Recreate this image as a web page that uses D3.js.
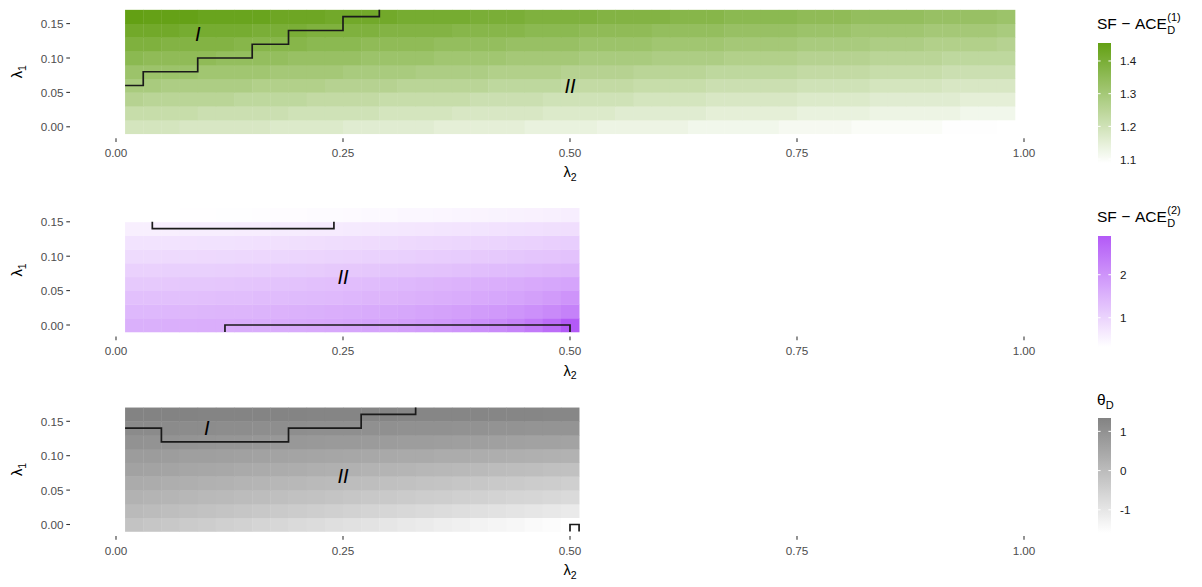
<!DOCTYPE html>
<html><head><meta charset="utf-8">
<script src="https://cdn.jsdelivr.net/npm/d3@7"></script>
<style>
body{margin:0;background:#fff}
text{font-family:"Liberation Sans",Arial,Helvetica,sans-serif}
</style>
</head><body>
<svg id="chart" width="1202" height="587"></svg>
<script>
// ---------------- data ----------------
const lambda2Wide = [0.02,0.04,0.06,0.08,0.10,0.12,0.14,0.16,0.18,0.20,0.22,0.24,0.26,0.28,0.30,0.32,0.34,0.36,0.38,0.40,0.42,0.44,0.46,0.48,0.50,0.52,0.54,0.56,0.58,0.60,0.62,0.64,0.66,0.68,0.70,0.72,0.74,0.76,0.78,0.80,0.82,0.84,0.86,0.88,0.90,0.92,0.94,0.96,0.98];
const lambda2Narrow = [0.02,0.04,0.06,0.08,0.10,0.12,0.14,0.16,0.18,0.20,0.22,0.24,0.26,0.28,0.30,0.32,0.34,0.36,0.38,0.40,0.42,0.44,0.46,0.48,0.50];
const lambda1 = [0.00,0.02,0.04,0.06,0.08,0.10,0.12,0.14,0.16];

// SF-ACE_D^(1): rows = lambda1 (0.00 .. 0.16), columns = lambda2Wide
const ace1 = [
 [1.19,1.19,1.19,1.18,1.18,1.18,1.18, 1.18,1.17,1.17,1.17,1.17,1.16,1.16, 1.16,1.16,1.16,1.15,1.15,1.15,1.15, 1.15,1.14,1.14,1.14,1.14,1.13,1.13, 1.13,1.13,1.13,1.12,1.12,1.12,1.12, 1.12,1.11,1.11,1.11,1.11,1.10,1.10, 1.10,1.10,1.10,1.09,1.09,1.09,1.088],
 [1.22,1.22,1.22,1.22,1.21,1.21,1.21, 1.21,1.21,1.20,1.20,1.20,1.20,1.20, 1.19,1.19,1.19,1.19,1.18,1.18,1.18, 1.18,1.18,1.17,1.17,1.17,1.17,1.16, 1.16,1.16,1.16,1.16,1.15,1.15,1.15, 1.15,1.15,1.14,1.14,1.14,1.14,1.13, 1.13,1.13,1.13,1.13,1.12,1.12,1.12],
 [1.26,1.25,1.25,1.25,1.25,1.25,1.24, 1.24,1.24,1.24,1.23,1.23,1.23,1.23, 1.22,1.22,1.22,1.22,1.22,1.21,1.21, 1.21,1.21,1.20,1.20,1.20,1.20,1.20, 1.19,1.19,1.19,1.19,1.18,1.18,1.18, 1.18,1.18,1.17,1.17,1.17,1.17,1.16, 1.16,1.16,1.16,1.16,1.15,1.15,1.15],
 [1.29,1.29,1.28,1.28,1.28,1.28,1.28, 1.27,1.27,1.27,1.27,1.26,1.26,1.26, 1.26,1.25,1.25,1.25,1.25,1.25,1.24, 1.24,1.24,1.24,1.23,1.23,1.23,1.23, 1.22,1.22,1.22,1.22,1.21,1.21,1.21, 1.21,1.21,1.20,1.20,1.20,1.20,1.19, 1.19,1.19,1.19,1.18,1.18,1.18,1.18],
 [1.32,1.32,1.32,1.32,1.31,1.31,1.31, 1.31,1.30,1.30,1.30,1.30,1.29,1.29, 1.29,1.29,1.28,1.28,1.28,1.28,1.27, 1.27,1.27,1.27,1.26,1.26,1.26,1.26, 1.25,1.25,1.25,1.25,1.24,1.24,1.24, 1.24,1.24,1.23,1.23,1.23,1.23,1.22, 1.22,1.22,1.22,1.21,1.21,1.21,1.21],
 [1.36,1.35,1.35,1.35,1.35,1.34,1.34, 1.34,1.34,1.33,1.33,1.33,1.33,1.32, 1.32,1.32,1.32,1.31,1.31,1.31,1.31, 1.30,1.30,1.30,1.30,1.29,1.29,1.29, 1.29,1.28,1.28,1.28,1.28,1.27,1.27, 1.27,1.27,1.26,1.26,1.26,1.26,1.25, 1.25,1.25,1.25,1.24,1.24,1.24,1.24],
 [1.39,1.39,1.38,1.38,1.38,1.38,1.37, 1.37,1.37,1.37,1.36,1.36,1.36,1.35, 1.35,1.35,1.35,1.34,1.34,1.34,1.34, 1.33,1.33,1.33,1.33,1.32,1.32,1.32, 1.32,1.31,1.31,1.31,1.31,1.30,1.30, 1.30,1.30,1.29,1.29,1.29,1.29,1.28, 1.28,1.28,1.27,1.27,1.27,1.27,1.26],
 [1.42,1.42,1.42,1.41,1.41,1.41,1.41, 1.40,1.40,1.40,1.39,1.39,1.39,1.39, 1.38,1.38,1.38,1.38,1.37,1.37,1.37, 1.37,1.36,1.36,1.36,1.35,1.35,1.35, 1.35,1.34,1.34,1.34,1.34,1.33,1.33, 1.33,1.33,1.32,1.32,1.32,1.31,1.31, 1.31,1.31,1.30,1.30,1.30,1.30,1.29],
 [1.455,1.45,1.45,1.45,1.44,1.44,1.44, 1.44,1.43,1.43,1.43,1.42,1.42,1.42, 1.42,1.41,1.41,1.41,1.41,1.40,1.40, 1.40,1.39,1.39,1.39,1.39,1.38,1.38, 1.38,1.38,1.37,1.37,1.37,1.36,1.36, 1.36,1.36,1.35,1.35,1.35,1.34,1.34, 1.34,1.34,1.33,1.33,1.33,1.33,1.32]
];

// SF-ACE_D^(2): rows = lambda1, columns = lambda2Narrow
const ace2 = [
 [1.56,1.56,1.57,1.57,1.58,1.59,1.60,1.61,1.62,1.64,1.66,1.68,1.71,1.74,1.78,1.82,1.87,1.92,1.98,2.05,2.14,2.25,2.40,2.60,2.90],
 [1.43,1.43,1.44,1.45,1.46,1.47,1.48,1.50,1.52,1.54,1.56,1.58,1.61,1.64,1.67,1.70,1.74,1.78,1.82,1.87,1.92,1.98,2.05,2.15,2.28],
 [1.30,1.30,1.31,1.31,1.32,1.33,1.34,1.36,1.37,1.39,1.40,1.42,1.44,1.47,1.49,1.52,1.55,1.58,1.62,1.66,1.70,1.75,1.81,1.89,2.00],
 [1.17,1.17,1.18,1.19,1.20,1.21,1.22,1.24,1.26,1.28,1.30,1.32,1.35,1.37,1.40,1.43,1.46,1.49,1.52,1.55,1.59,1.62,1.66,1.70,1.74],
 [1.04,1.04,1.05,1.05,1.06,1.07,1.08,1.09,1.11,1.12,1.14,1.16,1.18,1.20,1.22,1.24,1.26,1.28,1.31,1.34,1.36,1.39,1.42,1.45,1.48],
 [0.89,0.89,0.90,0.90,0.91,0.92,0.93,0.94,0.95,0.96,0.98,0.99,1.01,1.02,1.04,1.06,1.08,1.10,1.12,1.15,1.17,1.19,1.22,1.24,1.27],
 [0.76,0.76,0.76,0.77,0.78,0.78,0.79,0.80,0.81,0.82,0.83,0.85,0.86,0.88,0.89,0.91,0.93,0.94,0.96,0.98,1.00,1.02,1.04,1.07,1.09],
 [0.57,0.57,0.57,0.58,0.58,0.59,0.60,0.60,0.61,0.62,0.63,0.64,0.65,0.67,0.68,0.69,0.71,0.72,0.74,0.75,0.77,0.79,0.80,0.82,0.84],
 [0.32,0.32,0.32,0.33,0.33,0.34,0.34,0.35,0.36,0.37,0.38,0.39,0.40,0.41,0.42,0.44,0.45,0.46,0.48,0.49,0.51,0.53,0.54,0.56,0.58]
];

// theta_D: rows = lambda1, columns = lambda2Narrow
const thetaD = [
 [-0.18,-0.24,-0.30,-0.36,-0.42,-0.47,-0.53,-0.59,-0.65,-0.71,-0.77,-0.83,-0.89,-0.94,-1.00,-1.06,-1.12,-1.18,-1.24,-1.30,-1.36,-1.41,-1.47,-1.53,-1.59],
 [0.05,0.00,-0.05,-0.09,-0.14,-0.19,-0.24,-0.28,-0.33,-0.38,-0.43,-0.47,-0.52,-0.57,-0.62,-0.66,-0.71,-0.76,-0.81,-0.85,-0.90,-0.95,-1.00,-1.04,-1.09],
 [0.23,0.19,0.15,0.11,0.07,0.03,-0.01,-0.04,-0.08,-0.12,-0.16,-0.20,-0.24,-0.28,-0.32,-0.36,-0.40,-0.44,-0.47,-0.51,-0.55,-0.59,-0.63,-0.67,-0.71],
 [0.40,0.36,0.33,0.29,0.26,0.22,0.19,0.15,0.12,0.08,0.05,0.01,-0.03,-0.06,-0.10,-0.13,-0.17,-0.20,-0.24,-0.27,-0.31,-0.34,-0.38,-0.41,-0.45],
 [0.61,0.58,0.55,0.52,0.49,0.46,0.43,0.40,0.37,0.34,0.31,0.28,0.25,0.21,0.18,0.15,0.12,0.09,0.06,0.03,0.00,-0.03,-0.06,-0.09,-0.12],
 [0.76,0.74,0.72,0.69,0.67,0.65,0.63,0.61,0.58,0.56,0.54,0.52,0.50,0.47,0.45,0.43,0.41,0.38,0.36,0.34,0.32,0.30,0.27,0.25,0.23],
 [0.99,0.97,0.96,0.94,0.92,0.90,0.89,0.87,0.85,0.84,0.82,0.80,0.79,0.77,0.75,0.73,0.72,0.70,0.68,0.67,0.65,0.63,0.61,0.60,0.58],
 [1.16,1.15,1.14,1.13,1.12,1.11,1.10,1.09,1.08,1.07,1.06,1.05,1.05,1.04,1.03,1.02,1.01,1.00,0.99,0.98,0.97,0.96,0.95,0.94,0.93],
 [1.34,1.34,1.33,1.33,1.32,1.32,1.32,1.31,1.31,1.31,1.30,1.30,1.30,1.29,1.29,1.28,1.28,1.28,1.27,1.27,1.26,1.26,1.26,1.25,1.25]
];

// region boundaries (lambda2, lambda1)
const boundary1X = [0.01,0.03,0.09,0.15,0.19,0.25,0.29];
const boundary1Y = [0.06,0.08,0.10,0.12,0.14,0.16,0.17];
const boundary3X = [0.01,0.05,0.19,0.27,0.33];
const boundary3Y = [0.14,0.12,0.14,0.16,0.17];
const bracket2aX = [0.04,0.04,0.24,0.24];
const bracket2aY = [0.15,0.14,0.14,0.15];
const bracket2bX = [0.12,0.12,0.50,0.50];
const bracket2bY = [-0.01,0.00,0.00,-0.01];
const bracket3X = [0.50,0.50,0.51,0.51];
const bracket3Y = [-0.01,0.00,0.00,-0.01];

// region labels
const regionLabels1 = [{t:"I",x:0.09,y:0.135},{t:"II",x:0.50,y:0.06}];
const regionLabels2 = [{t:"II",x:0.25,y:0.07}];
const regionLabels3 = [{t:"I",x:0.10,y:0.14},{t:"II",x:0.25,y:0.07}];

const xTicks = [0,0.25,0.5,0.75,1];
const xTickLabels = ["0.00","0.25","0.50","0.75","1.00"];
const yTicks = [0,0.05,0.10,0.15];
const yTickLabels = ["0.00","0.05","0.10","0.15"];
const legend1Ticks = [1.1,1.2,1.3,1.4];
const legend1Labels = ["1.1","1.2","1.3","1.4"];
const legend2Ticks = [1,2];
const legend2Labels = ["1","2"];
const legend3Ticks = [-1,0,1];
const legend3Labels = ["-1","0","1"];

// ---------------- drawing ----------------
const svg = d3.select("#chart");
svg.append("rect").attr("width",1202).attr("height",587).attr("fill","#fff");
const defs = svg.append("defs");

const x = d3.scaleLinear().domain([0,1]).range([116,1024]);

const panels = [
  {data:ace1, xs:lambda2Wide, y0:126.8, high:"#63a014", lines:[[boundary1X,boundary1Y,true]], labels:regionLabels1,
   legend:{top:43, bottom:163, ticks:legend1Ticks, labels:legend1Labels, titleY:29, title:"ace", sup:"(1)"}},
  {data:ace2, xs:lambda2Narrow, y0:325, high:"#b35af7", lines:[[bracket2aX,bracket2aY,false],[bracket2bX,bracket2bY,false]], labels:regionLabels2,
   legend:{top:236, bottom:347, ticks:legend2Ticks, labels:legend2Labels, titleY:222, title:"ace", sup:"(2)"}},
  {data:thetaD, xs:lambda2Narrow, y0:524.5, high:"#838383", lines:[[boundary3X,boundary3Y,true],[bracket3X,bracket3Y,false]], labels:regionLabels3,
   legend:{top:418, bottom:533, ticks:legend3Ticks, labels:legend3Labels, titleY:405, title:"theta"}}
];

panels.forEach((p, pi) => {
  const y = d3.scaleLinear().domain([0,0.15]).range([p.y0, p.y0 - 0.15*688]);
  const all = p.data.flat();
  const ext = d3.extent(all);
  const color = d3.scaleLinear().domain(ext).range(["#ffffff", p.high]).interpolate(d3.interpolateRgb);

  const cells = [];
  p.data.forEach((row, i) => row.forEach((v, j) => cells.push({lx:p.xs[j], ly:lambda1[i], v})));
  const g = svg.append("g");
  g.selectAll("rect").data(cells).join("rect")
    .attr("x", d => x(d.lx - 0.01))
    .attr("y", d => y(d.ly + 0.01))
    .attr("width", d => x(d.lx + 0.01) - x(d.lx - 0.01) + 0.4)
    .attr("height", d => y(d.ly - 0.01) - y(d.ly + 0.01) + 0.4)
    .attr("fill", d => color(d.v));

  // boundaries
  p.lines.forEach(([lx, ly, step]) => {
    const pts = lx.map((v,k) => [v, ly[k]]);
    const line = d3.line().x(d => x(d[0])).y(d => y(d[1]));
    if (step) line.curve(d3.curveStepAfter);
    svg.append("path").attr("d", line(pts)).attr("fill","none")
      .attr("stroke","#1a1a1a").attr("stroke-width",1.7).attr("stroke-linejoin","miter");
  });

  // region labels
  svg.selectAll(null).data(p.labels).join("text")
    .attr("x", d => x(d.x)).attr("y", d => y(d.y))
    .attr("text-anchor","middle").attr("dominant-baseline","central")
    .attr("font-style","italic").attr("font-size",20).attr("fill","#000")
    .text(d => d.t);

  // x axis
  const tickTop = p.y0 + 11.5;
  xTicks.forEach((t,k) => {
    svg.append("line").attr("x1",x(t)).attr("x2",x(t)).attr("y1",tickTop).attr("y2",tickTop+3.7)
      .attr("stroke","#333").attr("stroke-width",1.07);
    svg.append("text").attr("x",x(t)).attr("y",tickTop+18.8).attr("text-anchor","middle")
      .attr("font-size",11.7).attr("fill","#4d4d4d").text(xTickLabels[k]);
  });
  const xt = svg.append("text").attr("x",x(0.5)).attr("y",p.y0+50.5).attr("text-anchor","middle")
    .attr("font-size",14.7).attr("fill","#000");
  xt.append("tspan").text("λ");
  xt.append("tspan").attr("font-size",10.5).attr("dy",3.5).text("2");

  // y axis
  yTicks.forEach((t,k) => {
    svg.append("line").attr("x1",66.3).attr("x2",70).attr("y1",y(t)).attr("y2",y(t))
      .attr("stroke","#333").attr("stroke-width",1.07);
    svg.append("text").attr("x",63.4).attr("y",y(t)).attr("text-anchor","end")
      .attr("dominant-baseline","central").attr("font-size",11.7).attr("fill","#4d4d4d").text(yTickLabels[k]);
  });
  const yt = svg.append("text").attr("transform",`translate(22,${y(0.08)}) rotate(-90)`)
    .attr("text-anchor","middle").attr("font-size",14.7).attr("fill","#000");
  yt.append("tspan").text("λ");
  yt.append("tspan").attr("font-size",10.5).attr("dy",3.5).text("1");

  // legend
  const L = p.legend;
  const gid = "grad"+pi;
  const grad = defs.append("linearGradient").attr("id",gid).attr("x1",0).attr("x2",0).attr("y1",1).attr("y2",0);
  d3.range(0,1.0001,0.05).forEach(s => {
    grad.append("stop").attr("offset",s).attr("stop-color", color(ext[0] + s*(ext[1]-ext[0])));
  });
  const barX = 1098, barW = 13;
  svg.append("rect").attr("x",barX).attr("y",L.top).attr("width",barW).attr("height",L.bottom-L.top)
    .attr("fill",`url(#${gid})`);
  const ly = d3.scaleLinear().domain(ext).range([L.bottom, L.top]);
  L.ticks.forEach((t,k) => {
    svg.append("line").attr("x1",barX).attr("x2",barX+2.6).attr("y1",ly(t)).attr("y2",ly(t)).attr("stroke","#fff").attr("stroke-width",1);
    svg.append("line").attr("x1",barX+barW-2.6).attr("x2",barX+barW).attr("y1",ly(t)).attr("y2",ly(t)).attr("stroke","#fff").attr("stroke-width",1);
    svg.append("text").attr("x",1120).attr("y",ly(t)).attr("dominant-baseline","central")
      .attr("font-size",11.7).attr("fill","#1a1a1a").text(L.labels[k]);
  });
  if (L.title === "ace") {
    const fs = 15.5;
    let cx = 1097;
    const a = svg.append("text").attr("x",cx).attr("y",L.titleY).attr("font-size",fs).attr("fill","#000").text("SF");
    cx += a.node().getComputedTextLength() + 4.5;
    const m = svg.append("text").attr("x",cx).attr("y",L.titleY).attr("font-size",fs).attr("fill","#000").text("\u2212");
    cx += m.node().getComputedTextLength() + 4.5;
    const b = svg.append("text").attr("x",cx).attr("y",L.titleY).attr("font-size",fs).attr("fill","#000").text("ACE");
    cx += b.node().getComputedTextLength() + 0.5;
    svg.append("text").attr("x",cx).attr("y",L.titleY+4.5).attr("font-size",11).attr("fill","#000").text("D");
    svg.append("text").attr("x",cx).attr("y",L.titleY-8.5).attr("font-size",11).attr("fill","#000").text(L.sup);
  } else {
    const t1 = svg.append("text").attr("x",1097).attr("y",L.titleY).attr("font-size",15.5).attr("fill","#000");
    t1.append("tspan").text("θ");
    t1.append("tspan").attr("font-size",11).attr("dy",3.5).text("D");
  }
});
</script>
</body></html>
